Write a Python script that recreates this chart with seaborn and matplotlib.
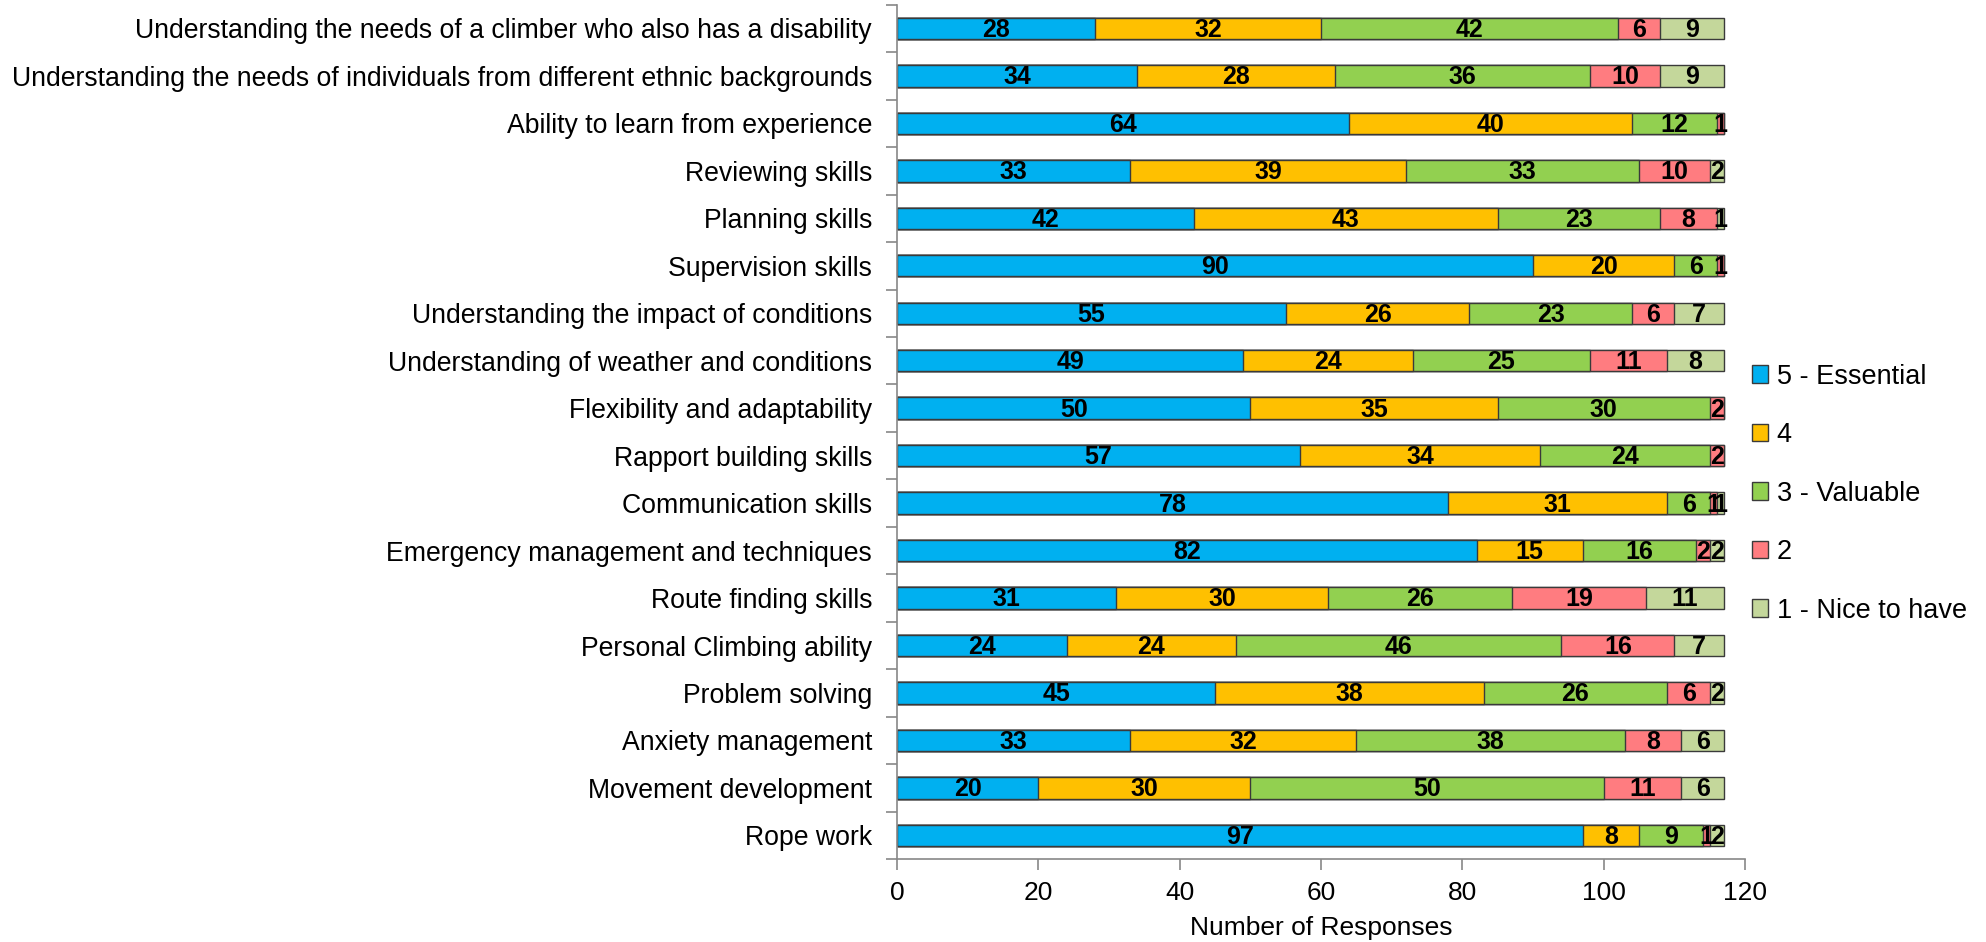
import numpy as np
import pandas as pd
import matplotlib
matplotlib.use("Agg")
import matplotlib.pyplot as plt
import seaborn as sns
from matplotlib.patches import Patch

categories = [
    "Understanding the needs of a climber who also has a disability",
    "Understanding the needs of individuals from different ethnic backgrounds",
    "Ability to learn from experience",
    "Reviewing skills",
    "Planning skills",
    "Supervision skills",
    "Understanding the impact of conditions",
    "Understanding of weather and conditions",
    "Flexibility and adaptability",
    "Rapport building skills",
    "Communication skills",
    "Emergency management and techniques",
    "Route finding skills",
    "Personal Climbing ability",
    "Problem solving",
    "Anxiety management",
    "Movement development",
    "Rope work",
]
essential = [28, 34, 64, 33, 42, 90, 55, 49, 50, 57, 78, 82, 31, 24, 45, 33, 20, 97]
four      = [32, 28, 40, 39, 43, 20, 26, 24, 35, 34, 31, 15, 30, 24, 38, 32, 30, 8]
valuable  = [42, 36, 12, 33, 23, 6, 23, 25, 30, 24, 6, 16, 26, 46, 26, 38, 50, 9]
two       = [6, 10, 1, 10, 8, 1, 6, 11, 2, 2, 1, 2, 19, 16, 6, 8, 11, 1]
nice      = [9, 9, 0, 2, 1, 0, 7, 8, 0, 0, 1, 2, 11, 7, 2, 6, 6, 2]

series_names = ["5 - Essential", "4", "3 - Valuable", "2", "1 - Nice to have"]
colors = ["#00B0F0", "#FFC000", "#92D050", "#FF7C80", "#C4D79B"]

series = [essential, four, valuable, two, nice]
vals = np.array(series, dtype=float)          # 5 x N
cum = np.cumsum(vals, axis=0)
starts = cum - vals

sns.set_theme(style="white")
plt.rcParams["font.family"] = ["Liberation Sans", "DejaVu Sans"]
plt.rcParams["text.color"] = "black"
plt.rcParams["axes.labelcolor"] = "black"
plt.rcParams["xtick.labelcolor"] = "black"
plt.rcParams["ytick.labelcolor"] = "black"

fig = plt.figure(figsize=(19.86, 9.42), dpi=100)
ax = fig.add_axes([0.4517, 0.088, 0.4270, 0.907])

bar_w = 0.45
edge = "#3a3a3a"
for k in range(len(series) - 1, -1, -1):
    df = pd.DataFrame({"cat": categories, "val": cum[k]})
    sns.barplot(data=df, x="val", y="cat", orient="h", color=colors[k],
                saturation=1, width=bar_w, edgecolor=edge, linewidth=1.0,
                order=categories, ax=ax, errorbar=None)

for k in range(len(series)):
    for i, v in enumerate(series[k]):
        if v > 0:
            ax.text(starts[k, i] + v / 2, i + 0.03, f"{v:g}", ha="center", va="center",
                    fontsize=18, fontweight="bold", color="black")

ax.set_xlim(0, 120)
ax.set_ylim(len(categories) - 0.5, -0.5)
ax.set_xticks(np.arange(0, 121, 20))
ax.set_xlabel("Number of Responses", fontsize=19, labelpad=8)
ax.set_ylabel("")

for s in ["top", "right"]:
    ax.spines[s].set_visible(False)
for s in ["left", "bottom"]:
    ax.spines[s].set_color("#888888")
    ax.spines[s].set_linewidth(1.2)

ax.tick_params(axis="x", which="major", direction="out", length=8, width=1.2,
               color="#888888", labelsize=19, pad=8, bottom=True)
ax.tick_params(axis="y", which="major", length=0, labelsize=19.2, pad=18)
ax.set_yticks(np.arange(-0.5, len(categories), 1.0), minor=True)
ax.tick_params(axis="y", which="minor", direction="out", length=8, width=1.2,
               color="#888888", left=True)

handles = [Patch(facecolor=c, edgecolor=edge, linewidth=1.0) for c in colors]
fig.legend(handles, series_names, loc="center left",
           bbox_to_anchor=(0.882, 0.476), frameon=False, fontsize=19.5,
           handlelength=0.62, handleheight=0.62, handletextpad=0.3,
           labelspacing=1.2, borderpad=0, borderaxespad=0)

fig.savefig("out.png", dpi=100)
